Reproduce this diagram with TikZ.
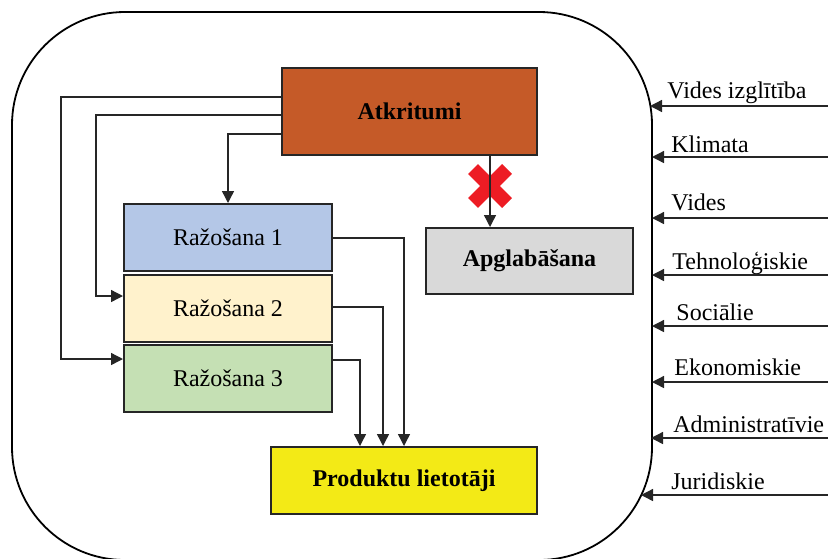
\documentclass[tikz,border=0pt]{standalone}
\usepackage{fontspec}
\setmainfont{Liberation Serif}
\usepackage{xcolor}
\usetikzlibrary{arrows.meta, positioning}

\definecolor{atkcol}{RGB}{197,90,40}
\definecolor{apgcol}{RGB}{217,217,217}
\definecolor{raz1col}{RGB}{180,199,231}
\definecolor{raz2col}{RGB}{255,242,204}
\definecolor{raz3col}{RGB}{197,224,180}
\definecolor{prodcol}{RGB}{243,234,22}
\definecolor{crosscol}{RGB}{237,28,36}

\tikzset{
    box/.style={rectangle, draw=black!85, line width=1pt, inner sep=0pt, minimum width=104pt, minimum height=33.5pt, font=\fontsize{12}{14}\selectfont},
    boldbox/.style={box, font=\fontsize{12}{14}\selectfont\bfseries},
    factor/.style={anchor=base west, inner sep=0pt, font=\fontsize{12}{14}\selectfont},
    arrow/.style={-{Triangle[length=6pt,width=6pt]}, line width=0.7pt, draw=black!85},
    crossbar/.style={line width=7pt, draw=crosscol}
}

\begin{document}
\begin{tikzpicture}[x=0.5pt, y=-0.5pt, node distance=0.8pt]
    \clip (0,0) rectangle (828,558);
    \draw[line width=0.9pt, rounded corners=56.5pt] (12,12) rectangle (652,560);

    \node (atkritumi) [boldbox, fill=atkcol, minimum width=127.5pt, minimum height=43.5pt] at (409.5,111.5) {Atkritumi};
    \node (apglabasana) [boldbox, fill=apgcol, minimum width=103.5pt, minimum height=33pt] at (529.5,261) {Apglabāšana};
    \node (razosana1) [box, fill=raz1col] at (228,237.5) {Ražošana 1};
    \node (razosana2) [box, fill=raz2col, below=of razosana1] {Ražošana 2};
    \node (razosana3) [box, fill=raz3col, below=of razosana2] {Ražošana 3};
    \node (lietotaji) [boldbox, fill=prodcol, minimum width=133pt] at (404,480.5) {Produktu lietotāji};

    % blocked route to landfill
    \draw[crossbar] (473,169) -- (507,203) (473,203) -- (507,169);
    \draw[arrow] (atkritumi.south -| 490,0) -- (apglabasana.north -| 490,0);

    \draw[arrow] (atkritumi.west |- 0,134) -| (razosana1.north);
    \draw[arrow] (atkritumi.west |- 0,115) -| (96,296) -- (razosana2.west |- 0,296);
    \draw[arrow] (atkritumi.west |- 0,97) -| (61,359) -- (razosana3.west |- 0,359);

    \draw[arrow] (razosana1.east |- 0,238) -| (lietotaji.north -| 404,0);
    \draw[arrow] (razosana2.east |- 0,307) -| (lietotaji.north -| 383,0);
    \draw[arrow] (razosana3.east |- 0,360) -| (lietotaji.north -| 360,0);

    % outside factors
    \foreach \txt/\lx/\ly/\ay/\ax [count=\i] in {
        Vides izglītība/667/98/106/650,
        Klimata/671/152/157/652,
        Vides/671/210/218/652,
        Tehnoloģiskie/672/269/275/652,
        Sociālie/676/320/326/652,
        Ekonomiskie/674/375/382/652,
        Administratīvie/673/432/438/651,
        Juridiskie/671/489/495/641}{
        \node (f\i) [factor] at (\lx,\ly) {\txt};
        \coordinate (s\i) at (828,\ay);
        \coordinate (e\i) at (\ax,\ay);
        \draw[arrow] (s\i) -- (e\i);
    }
\end{tikzpicture}
\end{document}
